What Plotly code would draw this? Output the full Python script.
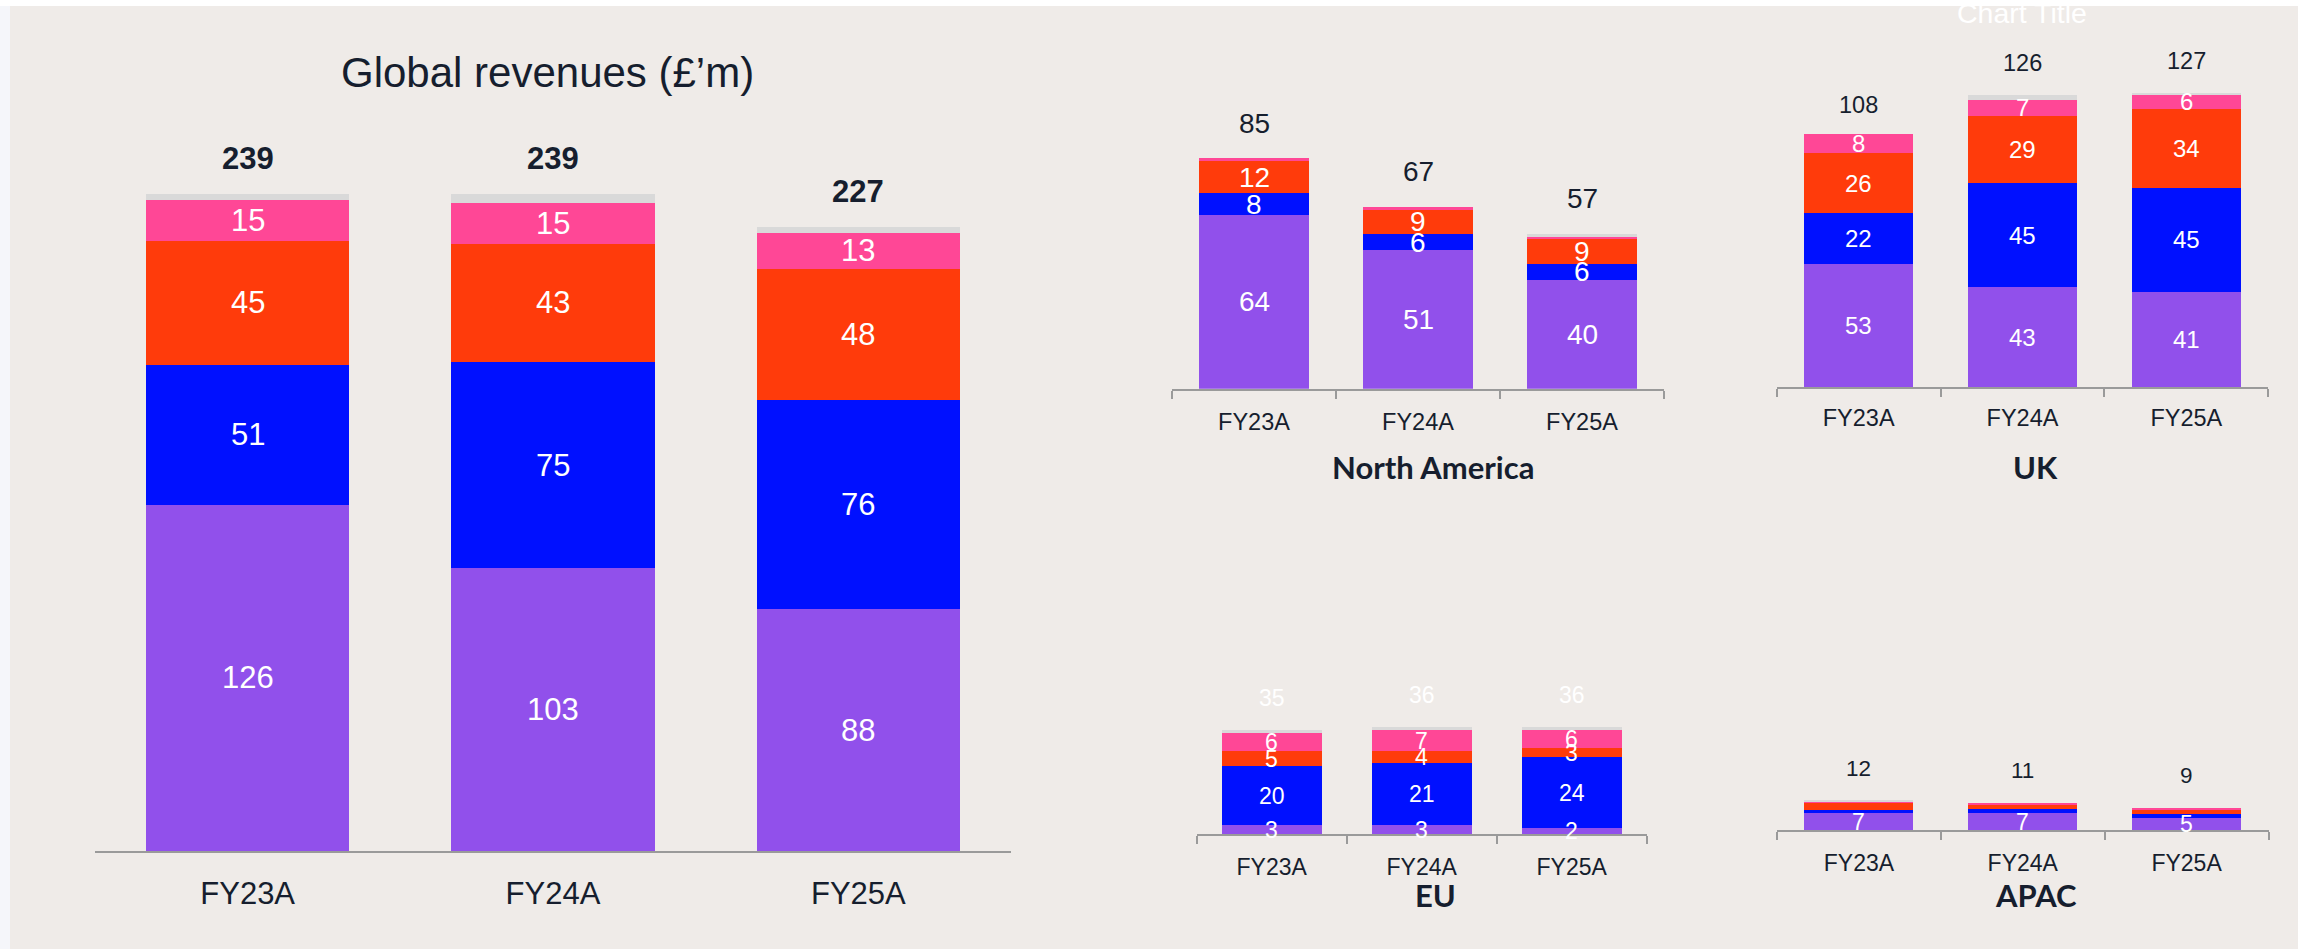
import plotly.graph_objects as go

W, H = 2302, 949

categories = ["FY23A", "FY24A", "FY25A"]
series_names = ["Series 1", "Series 2", "Series 3", "Series 4", "Other"]
series_colors = ["#9150EB", "#0010FF", "#FF3B0B", "#FF4796", "#D9D9D9"]

global_purple = [126, 103, 88]
global_blue = [51, 75, 76]
global_red = [45, 43, 48]
global_pink = [15, 15, 13]
global_total = [239, 239, 227]

na_purple = [64, 51, 40]
na_blue = [8, 6, 6]
na_red = [12, 9, 9]
na_pink = [1, 1, 1]
na_total = [85, 67, 57]

uk_purple = [53, 43, 41]
uk_blue = [22, 45, 45]
uk_red = [26, 29, 34]
uk_pink = [8, 7, 6]
uk_total = [108, 126, 127]

eu_purple = [3, 3, 2]
eu_blue = [20, 21, 24]
eu_red = [5, 4, 3]
eu_pink = [6, 7, 6]
eu_total = [35, 36, 36]

apac_purple = [7, 7, 5]
apac_blue = [1.3, 1.6, 1.6]
apac_red = [3.1, 2.0, 1.8]
apac_pink = [0.4, 0.4, 0.6]
apac_total = [12, 11, 9]

NAVY = "#161e2e"
BG = "#EFEBE8"
AXIS = "#9a9a9a"
FONT = "Liberation Sans, Arial, sans-serif"
TFONT = "Lato, sans-serif"


def fx(p):
    return p / W


def fy(p):
    return 1 - p / H


panels = [
    dict(data=[global_purple, global_blue, global_red, global_pink], total=global_total,
         x0=95, x1=1011, base=851, ppu=2.747, ymax=300, seg_font=31, tot_font=31,
         tot_bold=True, tot_color=NAVY, tot_shift=36, cat_font=31, ticks=False,
         label_series=[0, 1, 2, 3], standoff=14, title=None),
    dict(data=[na_purple, na_blue, na_red, na_pink], total=na_total,
         x0=1172, x1=1664, base=388.7, ppu=2.714, ymax=140, seg_font=28, tot_font=28,
         tot_bold=False, tot_color=NAVY, tot_shift=35, cat_font=23.5, ticks=True,
         label_series=[0, 1, 2], standoff=11, title=("North America", 1433, 467)),
    dict(data=[uk_purple, uk_blue, uk_red, uk_pink], total=uk_total,
         x0=1776.7, x1=2268.3, base=387, ppu=2.318, ymax=160, seg_font=24, tot_font=23.5,
         tot_bold=False, tot_color=NAVY, tot_shift=32, cat_font=23.5, ticks=True,
         label_series=[0, 1, 2, 3], standoff=9, title=("UK", 2035, 467)),
    dict(data=[eu_purple, eu_blue, eu_red, eu_pink], total=eu_total,
         x0=1196.7, x1=1646.7, base=834.3, ppu=2.97, ymax=60, seg_font=23, tot_font=23,
         tot_bold=False, tot_color="#FFFFFF", tot_shift=32, cat_font=23, ticks=True,
         label_series=[0, 1, 2, 3], standoff=11, title=("EU", 1435, 895)),
    dict(data=[apac_purple, apac_blue, apac_red, apac_pink], total=apac_total,
         x0=1777, x1=2268.5, base=830.3, ppu=2.49, ymax=60, seg_font=23, tot_font=22.5,
         tot_bold=False, tot_color=NAVY, tot_shift=32, cat_font=23, ticks=True,
         label_series=[0], standoff=11, title=("APAC", 2036, 895)),
]

fig = go.Figure()
annotations = []
layout_axes = {}

for i, p in enumerate(panels, start=1):
    xa = "x" if i == 1 else f"x{i}"
    ya = "y" if i == 1 else f"y{i}"
    other = [max(0, t - sum(vals)) for t, vals in zip(p["total"], zip(*p["data"]))]
    series = p["data"] + [other]
    for s, vals in enumerate(series):
        fig.add_trace(go.Bar(
            x=categories, y=vals, name=series_names[s], xaxis=xa, yaxis=ya,
            marker=dict(color=series_colors[s], line=dict(width=0)),
            showlegend=False, hoverinfo="skip",
        ))
    # segment labels
    for j, cat in enumerate(categories):
        cum = 0
        for s, vals in enumerate(series):
            v = vals[j]
            if s in p["label_series"]:
                annotations.append(dict(
                    x=cat, y=cum + v / 2, xref=xa, yref=ya, text=str(round(v)),
                    showarrow=False, xanchor="center", yanchor="middle",
                    font=dict(family=FONT, size=p["seg_font"], color="#FFFFFF"),
                ))
            cum += v
        t = p["total"][j]
        txt = f"<b>{t}</b>" if p["tot_bold"] else str(t)
        annotations.append(dict(
            x=cat, y=t, xref=xa, yref=ya, text=txt, showarrow=False,
            xanchor="center", yanchor="middle", yshift=p["tot_shift"],
            font=dict(family=FONT, size=p["tot_font"], color=p["tot_color"]),
        ))
    if p["title"]:
        tt, tx, ty = p["title"]
        annotations.append(dict(
            x=fx(tx), y=fy(ty), xref="paper", yref="paper", text=f"<b>{tt}</b>",
            showarrow=False, xanchor="center", yanchor="middle",
            font=dict(family=TFONT, size=31, color=NAVY),
        ))
    xkey = "xaxis" if i == 1 else f"xaxis{i}"
    ykey = "yaxis" if i == 1 else f"yaxis{i}"
    layout_axes[xkey] = dict(
        domain=[fx(p["x0"]), fx(p["x1"])], anchor=ya, type="category",
        range=[-0.5, 2.5], showline=True, linecolor=AXIS, linewidth=2,
        showgrid=False, zeroline=False,
        ticks="outside" if p["ticks"] else "", ticklen=8 if p["ticks"] else 0,
        tickwidth=2, tickcolor=AXIS, tickson="boundaries",
        tickfont=dict(family=FONT, size=p["cat_font"], color=NAVY),
        ticklabelstandoff=p["standoff"], fixedrange=True,
    )
    layout_axes[ykey] = dict(
        domain=[fy(p["base"]), fy(p["base"] - p["ppu"] * p["ymax"])], anchor=xa,
        range=[0, p["ymax"]], showticklabels=False, showgrid=False, zeroline=False,
        showline=False, fixedrange=True,
    )

annotations.append(dict(
    x=fx(547), y=fy(73), xref="paper", yref="paper", text="Global revenues (£’m)",
    showarrow=False, xanchor="center", yanchor="middle",
    font=dict(family=FONT, size=42, color=NAVY),
))
annotations.append(dict(
    x=fx(2022), y=fy(13), xref="paper", yref="paper", text="Chart Title",
    showarrow=False, xanchor="center", yanchor="middle",
    font=dict(family=FONT, size=28.5, color="#FFFFFF"),
))

shapes = [
    dict(type="rect", xref="paper", yref="paper", x0=fx(10), x1=fx(2298), y0=0, y1=fy(6),
         fillcolor=BG, line=dict(width=0), layer="below"),
    dict(type="rect", xref="paper", yref="paper", x0=0, x1=fx(10), y0=0, y1=fy(6),
         fillcolor="#F5F6FA", line=dict(width=0), layer="below"),
]

fig.update_layout(
    width=W, height=H, margin=dict(l=0, r=0, t=0, b=0, pad=0),
    paper_bgcolor="#FFFFFF", plot_bgcolor="rgba(0,0,0,0)",
    barmode="stack", bargap=0.334, showlegend=False,
    annotations=annotations, shapes=shapes, **layout_axes,
)

fig.write_html("out.html", config={"displayModeBar": False})
